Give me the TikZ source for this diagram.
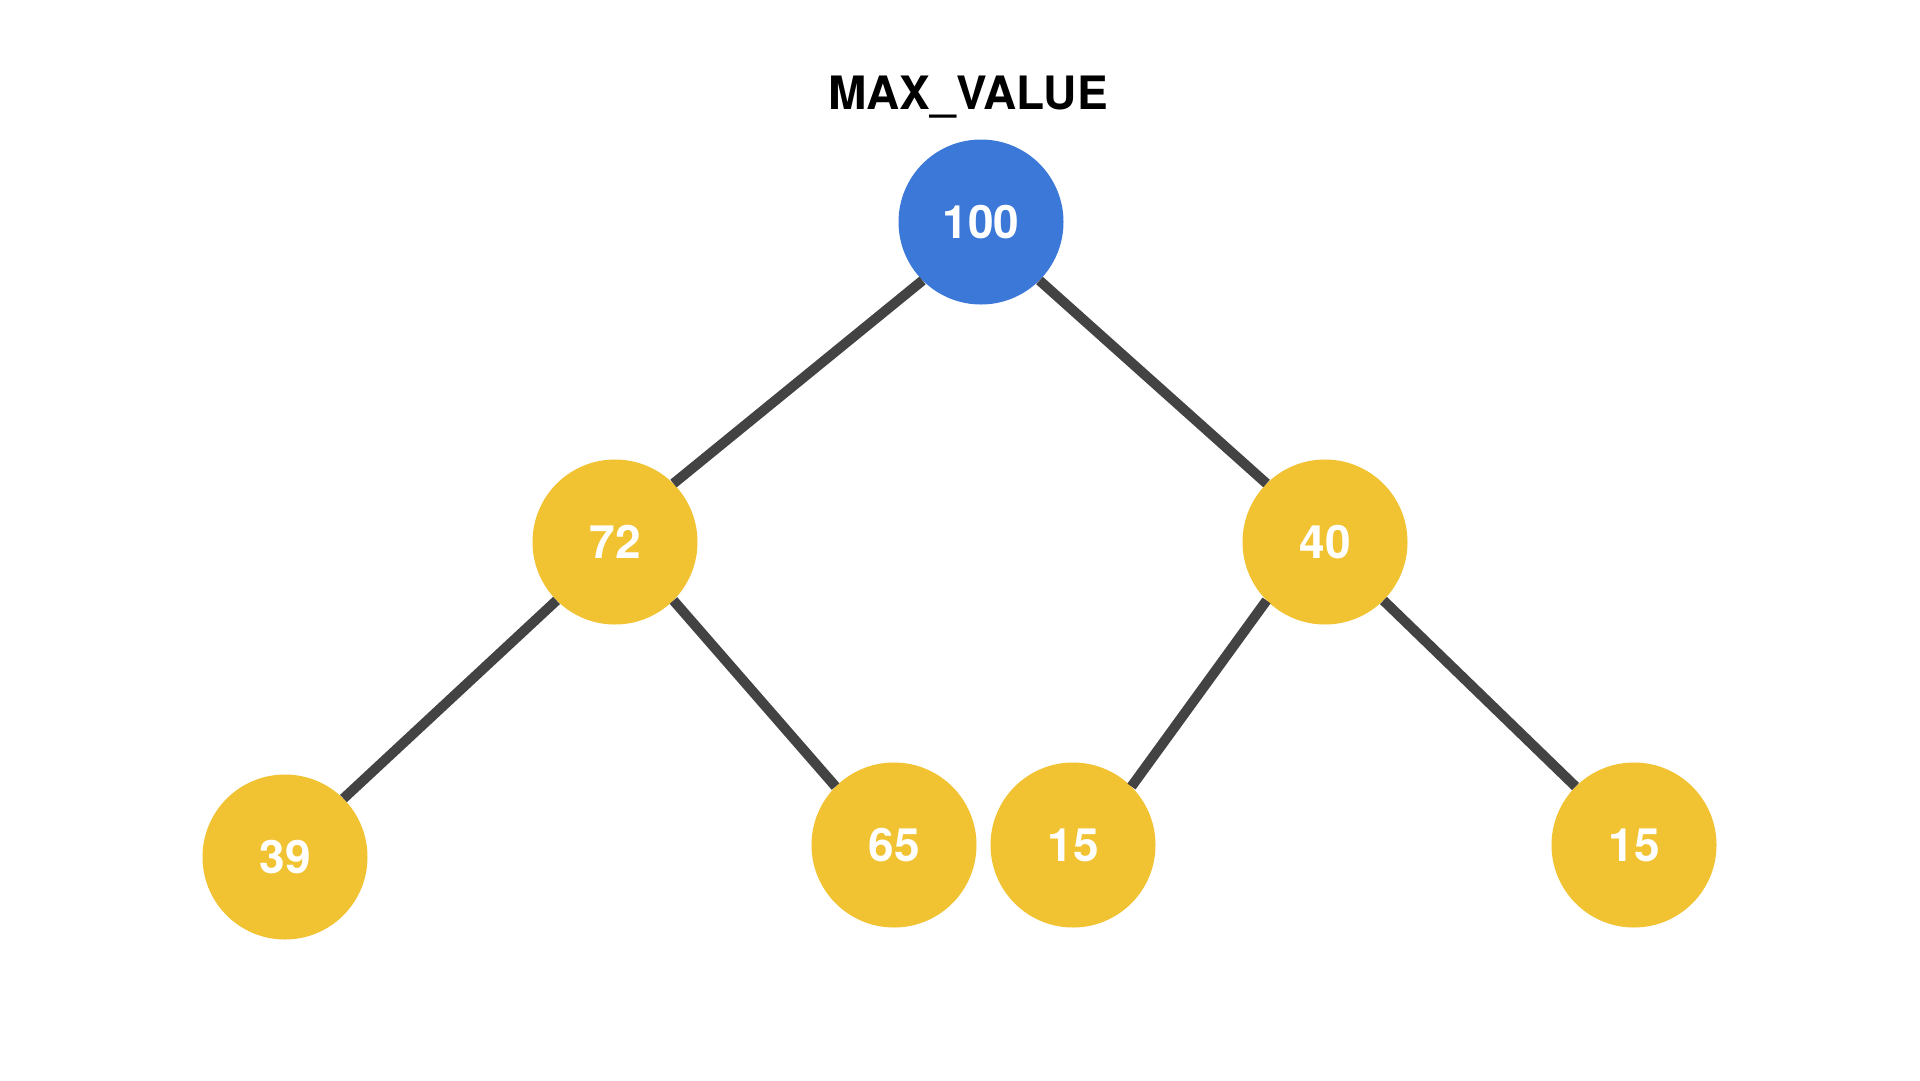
\documentclass[tikz,border=0pt]{standalone}
\usepackage{fontspec}
\setmainfont{TeX Gyre Heros}
\usetikzlibrary{arrows}
\usetikzlibrary{shapes}
\definecolor{rootBlue}{HTML}{3C78D8}
\definecolor{heapYellow}{HTML}{F1C232}
\definecolor{edgeGray}{HTML}{434343}

\begin{document}
\begin{tikzpicture}[x = 1pt, y = -1pt, font=\bfseries\fontsize{46}{55}\selectfont]
	\useasboundingbox (0,0) rectangle (1920,1080);
	\tikzstyle{heapEdge} = [line width = 10pt, color = edgeGray]
	\tikzstyle{rootStyle}=[shape = circle, minimum size = 165pt, inner sep = 0pt, fill = rootBlue, text = white]
	\tikzstyle{heapStyle}=[shape = circle, minimum size = 165pt, inner sep = 0pt, fill = heapYellow, text = white]
	\node[anchor = base] (title) at (968,109) {MAX\_VALUE};
	\node[rootStyle] (v0) at (981,222) {100};
	\node[heapStyle] (v1) at (615,542) {72};
	\node[heapStyle] (v2) at (1325,542) {40};
	\node[heapStyle] (v3) at (285,857) {39};
	\node[heapStyle] (v4) at (894,845) {65};
	\node[heapStyle] (v5) at (1073,845) {15};
	\node[heapStyle] (v6) at (1634,845) {15};
	\draw[heapEdge] (v0.south west) -- (v1.north east);
	\draw[heapEdge] (v0.south east) -- (v2.north west);
	\draw[heapEdge] (v1.south west) -- (v3.north east);
	\draw[heapEdge] (v1.south east) -- (v4.north west);
	\draw[heapEdge] (v2.south west) -- (v5.north east);
	\draw[heapEdge] (v2.south east) -- (v6.north west);
\end{tikzpicture}
\end{document}
